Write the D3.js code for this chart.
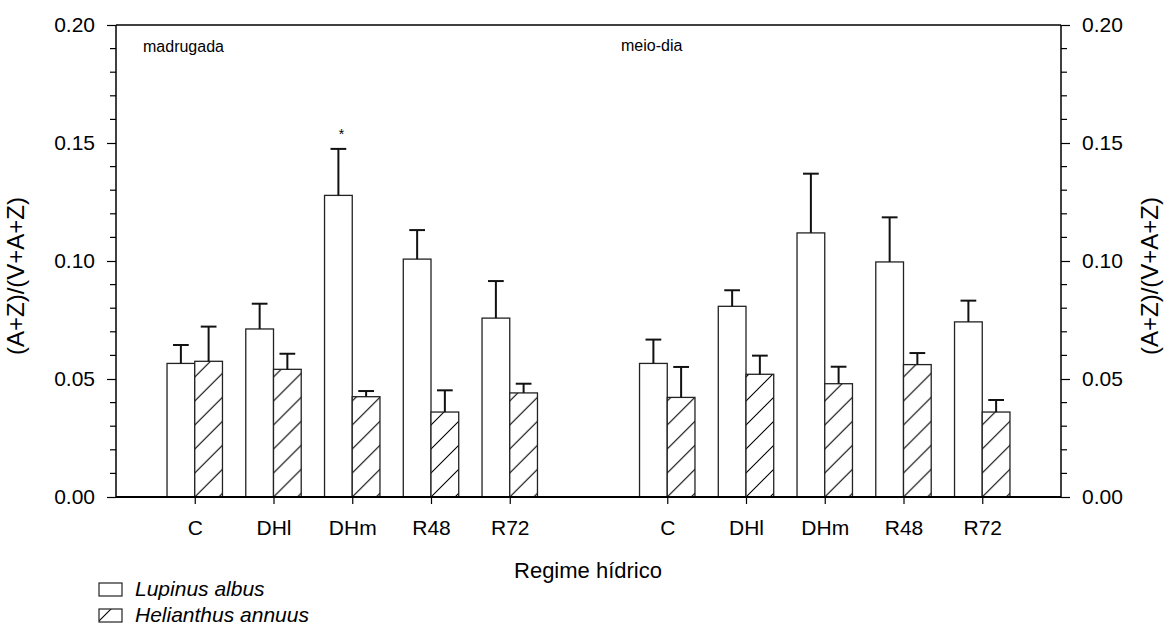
<!DOCTYPE html>
<html>
<head>
<meta charset="utf-8">
<script src="https://cdn.jsdelivr.net/npm/d3@7"></script>
<style>
  body { margin: 0; background: #fff; }
  svg text { font-family: "Liberation Sans", Arial, sans-serif; fill: #000; }
</style>
</head>
<body>
<svg id="chart" width="1171" height="627"></svg>
<script>
// --- DATA ---
const categories = ["C", "DHl", "DHm", "R48", "R72"];
const periods = ["madrugada", "meio-dia"];

const lupinusMadrugada = [0.0566, 0.0712, 0.1278, 0.1008, 0.0758];
const lupinusMadrugadaErr = [0.0078, 0.0107, 0.0197, 0.0123, 0.0157];
const helianthusMadrugada = [0.0575, 0.0541, 0.0425, 0.0360, 0.0441];
const helianthusMadrugadaErr = [0.0147, 0.0066, 0.0024, 0.0092, 0.0039];

const lupinusMeioDia = [0.0566, 0.0808, 0.1119, 0.0996, 0.0742];
const lupinusMeioDiaErr = [0.0101, 0.0068, 0.0251, 0.0189, 0.0090];
const helianthusMeioDia = [0.0422, 0.0520, 0.0480, 0.0561, 0.0360];
const helianthusMeioDiaErr = [0.0129, 0.0079, 0.0072, 0.0049, 0.0051];

const yTicks = [0, 0.05, 0.10, 0.15, 0.20];
const legendLabels = ["Lupinus albus", "Helianthus annuus"];

// --- LAYOUT ---
const svg = d3.select("#chart");
const plotL = 116, plotR = 1061, plotT = 25, plotB = 497;

// slots: -1 .. 11, group 1 in 0..4, gap at 5, group 2 in 6..10
const x = d3.scaleLinear().domain([-1, 11]).range([plotL, plotR]);
const y = d3.scaleLinear().domain([0, 0.20]).range([plotB, plotT]);
const barW = x(0.352) - x(0);
const capW = x(0.1) - x(0);

// flat rows
const rows = [];
categories.forEach((c, i) => {
    rows.push({ slot: i, cat: c, sp: 0, v: lupinusMadrugada[i], e: lupinusMadrugadaErr[i] });
    rows.push({ slot: i, cat: c, sp: 1, v: helianthusMadrugada[i], e: helianthusMadrugadaErr[i] });
    rows.push({ slot: i + 6, cat: c, sp: 0, v: lupinusMeioDia[i], e: lupinusMeioDiaErr[i] });
    rows.push({ slot: i + 6, cat: c, sp: 1, v: helianthusMeioDia[i], e: helianthusMeioDiaErr[i] });
});

// hatch patterns, anchored at each bar's bottom-left corner
const defs = svg.append("defs");
function hatch(id, px, py) {
    const p = defs.append("pattern")
        .attr("id", id)
        .attr("patternUnits", "userSpaceOnUse")
        .attr("x", px).attr("y", py)
        .attr("width", 24).attr("height", 24);
    p.append("rect").attr("width", 24).attr("height", 24).attr("fill", "#fff");
    p.append("path")
        .attr("d", "M0,24 L24,0 M-6,6 L6,-6 M18,30 L30,18")
        .attr("stroke", "#000").attr("stroke-width", 1.1);
}

rows.forEach((d, i) => {
    d.x0 = d.sp === 0 ? x(d.slot) - barW : x(d.slot);
    if (d.sp === 1) { d.pid = "hatch" + i; hatch(d.pid, d.x0, plotB); }
});

// --- BARS ---
svg.append("g").selectAll("rect")
    .data(rows)
    .join("rect")
    .attr("x", d => d.x0)
    .attr("y", d => y(d.v))
    .attr("width", barW)
    .attr("height", d => plotB - y(d.v))
    .attr("fill", d => d.sp === 0 ? "#fff" : `url(#${d.pid})`)
    .attr("stroke", "#222")
    .attr("stroke-width", 1.3);

// error bars (upper only)
const eb = svg.append("g").attr("stroke", "#111").attr("stroke-width", 2);
rows.forEach(d => {
    const cx = d.x0 + barW / 2;
    eb.append("line").attr("x1", cx).attr("x2", cx).attr("y1", y(d.v)).attr("y2", y(d.v + d.e));
    eb.append("line").attr("x1", cx - capW).attr("x2", cx + capW).attr("y1", y(d.v + d.e)).attr("y2", y(d.v + d.e));
});

// asterisk over DHm (madrugada, Lupinus)
svg.append("text")
    .attr("x", x(2) - barW / 2 + 3)
    .attr("y", 139)
    .attr("text-anchor", "middle")
    .style("font-size", "14px")
    .text("*");

// --- AXES ---
const minor = d3.range(0, 0.2001, 0.01).filter(v => Math.round(v * 100) % 5 !== 0);

const axisL = svg.append("g").attr("transform", `translate(${plotL},0)`)
    .call(d3.axisLeft(y).tickValues(yTicks).tickFormat(d3.format(".2f")).tickSize(9).tickPadding(12));
axisL.append("g").selectAll("line").data(minor).join("line")
    .attr("x1", -6).attr("x2", 0).attr("y1", d => y(d)).attr("y2", d => y(d))
    .attr("stroke", "#000");

const axisR = svg.append("g").attr("transform", `translate(${plotR},0)`)
    .call(d3.axisRight(y).tickValues(yTicks).tickFormat(d3.format(".2f")).tickSize(9).tickPadding(12));
axisR.append("g").selectAll("line").data(minor).join("line")
    .attr("x1", 0).attr("x2", 6).attr("y1", d => y(d)).attr("y2", d => y(d))
    .attr("stroke", "#000");

[axisL, axisR].forEach(a => {
    a.select(".domain").remove();
    a.selectAll("text").style("font-size", "21px").attr("font-family", null);
    a.selectAll("line").attr("stroke", "#000").attr("stroke-width", 1.2);
});

// frame lines
svg.append("line").attr("x1", plotL).attr("x2", plotL).attr("y1", plotT).attr("y2", plotB).attr("stroke", "#000").attr("stroke-width", 1.5);
svg.append("line").attr("x1", plotR).attr("x2", plotR).attr("y1", plotT).attr("y2", plotB).attr("stroke", "#000").attr("stroke-width", 1.5);
svg.append("line").attr("x1", plotL).attr("x2", plotR).attr("y1", plotT).attr("y2", plotT).attr("stroke", "#000").attr("stroke-width", 1.5);

// x axis
const slots = d3.range(0, 5).concat(d3.range(6, 11));
const xLabels = categories.concat(categories);
const axisB = svg.append("g").attr("transform", `translate(0,${plotB})`)
    .call(d3.axisBottom(x).tickValues(slots).tickFormat((d, i) => xLabels[i]).tickSize(7).tickPadding(16));
axisB.select(".domain").remove();
axisB.selectAll("text").style("font-size", "21px").attr("font-family", null);
axisB.selectAll("line").attr("stroke", "#000").attr("stroke-width", 1.2);
svg.append("line").attr("x1", plotL).attr("x2", plotR).attr("y1", plotB).attr("y2", plotB).attr("stroke", "#000").attr("stroke-width", 2);

// --- TITLES ---
svg.append("text").attr("x", 588).attr("y", 578).attr("text-anchor", "middle")
    .style("font-size", "22px").text("Regime hídrico");

svg.append("text").attr("transform", "translate(24,276) rotate(-90)").attr("text-anchor", "middle")
    .style("font-size", "24px").text("(A+Z)/(V+A+Z)");
svg.append("text").attr("transform", "translate(1158,276) rotate(-90)").attr("text-anchor", "middle")
    .style("font-size", "24px").text("(A+Z)/(V+A+Z)");

// period labels
svg.append("text").attr("x", 143).attr("y", 52).style("font-size", "16px").text(periods[0]);
svg.append("text").attr("x", 621).attr("y", 51).style("font-size", "16px").text(periods[1]);

// --- LEGEND ---
const legend = svg.append("g");
hatch("hatchLegend", 99, 621);
legendLabels.forEach((t, i) => {
    const ly = 583 + i * 26;
    legend.append("rect").attr("x", 99).attr("y", ly).attr("width", 23).attr("height", 13)
        .attr("fill", i === 0 ? "#fff" : "url(#hatchLegend)")
        .attr("stroke", "#222").attr("stroke-width", 1.2);
    legend.append("text").attr("x", 135).attr("y", ly + 13)
        .style("font-size", "21px").style("font-style", "italic").text(t);
});
</script>
</body>
</html>
